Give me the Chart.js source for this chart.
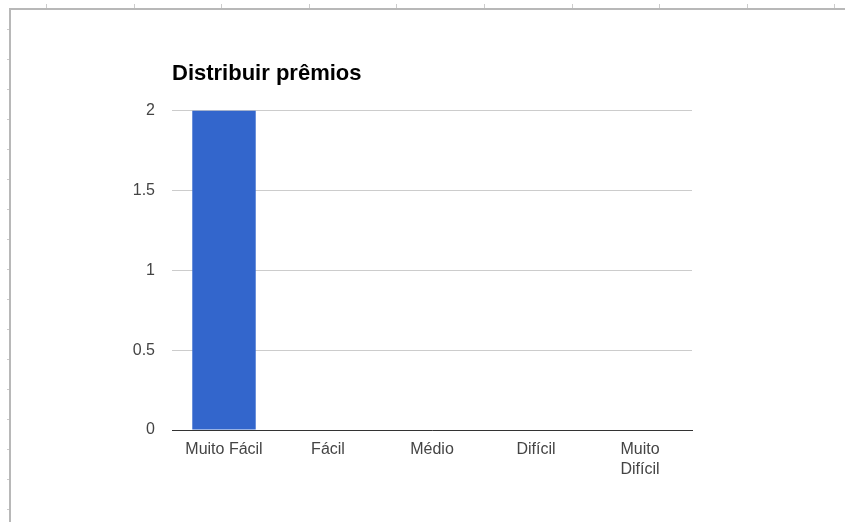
<!DOCTYPE html>
<html lang="pt">
<head>
    <meta charset="UTF-8">
    <title>Distribuir prêmios</title>
    <script src="https://cdn.jsdelivr.net/npm/chart.js"></script>
    <style>
        body { margin: 0; background: #fff; overflow: hidden; }
        #frame {
            position: absolute; left: 9px; top: 8px; width: 900px; height: 600px;
            border-top: 2px solid #b8b8b8; border-left: 2px solid #b8b8b8;
        }
        #rulerTop {
            position: absolute; left: 0; top: 4px; width: 845px; height: 4px;
            background: repeating-linear-gradient(to right, transparent 0 46px, #ccc 46px 47px, transparent 47px 87.6px);
        }
        #rulerLeft {
            position: absolute; left: 7px; top: 0; width: 2px; height: 522px;
            background: repeating-linear-gradient(to bottom, transparent 0 29px, #ccc 29px 30px, transparent 30px 29.5px);
        }
        #wrap { position: absolute; left: 0; top: 0; width: 845px; height: 522px; }
    </style>
</head>
<body>
<div id="rulerTop"></div>
<div id="rulerLeft"></div>
<div id="frame"></div>
<div id="wrap"><canvas id="premiosChart"></canvas></div>

<script>
    // dados
    const categorias = ['Muito Fácil', 'Fácil', 'Médio', 'Difícil', ['Muito', 'Difícil']];
    const respostas = [2, 0, 0, 0, 0];
    const escalaY = [0, 0.5, 1, 1.5, 2];

    const fonte = 'Arial, "Liberation Sans"';
    const ctx = document.getElementById('premiosChart').getContext('2d');

    new Chart(ctx, {
        type: 'bar',
        data: {
            labels: categorias,
            datasets: [{
                label: 'Distribuir prêmios',
                data: respostas,
                backgroundColor: '#3366cc',
                categoryPercentage: 1,
                barPercentage: 0.61
            }]
        },
        options: {
            responsive: true,
            maintainAspectRatio: false,
            animation: false,
            layout: { padding: { left: 112, right: 153, top: 61, bottom: 32 } },
            plugins: {
                legend: { display: false },
                tooltip: { enabled: false },
                title: {
                    display: true,
                    text: 'Distribuir prêmios',
                    align: 'start',
                    fullSize: false,
                    color: '#000',
                    font: { family: fonte, size: 22, weight: 'bold' },
                    padding: { top: 0, bottom: 23 }
                }
            },
            scales: {
                x: {
                    grid: { display: false, drawTicks: false },
                    border: { color: '#333', width: 1 },
                    ticks: {
                        color: '#444',
                        padding: 10,
                        maxRotation: 0,
                        autoSkip: false,
                        font: { family: fonte, size: 16, lineHeight: 1.25 }
                    },
                    afterFit: scale => { scale.height = 60; }
                },
                y: {
                    min: 0,
                    max: 2,
                    afterBuildTicks: scale => { scale.ticks = escalaY.map(v => ({ value: v })); },
                    grid: { color: '#cccccc', drawTicks: false },
                    border: { display: false },
                    ticks: {
                        color: '#444',
                        padding: 17,
                        font: { family: fonte, size: 16 },
                        callback: v => String(v)
                    },
                    afterFit: scale => { scale.width = 60; }
                }
            }
        }
    });
</script>
</body>
</html>
